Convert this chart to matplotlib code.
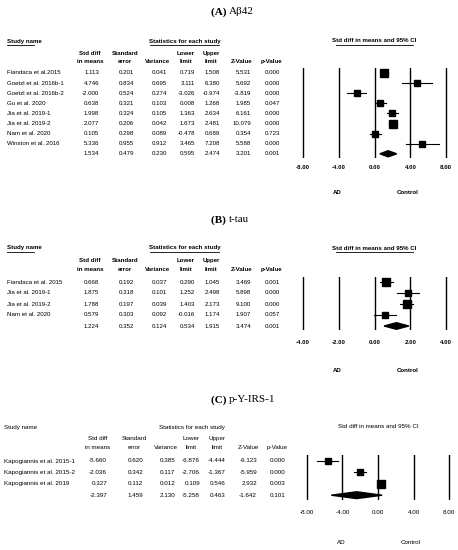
import matplotlib
matplotlib.use("Agg")
import matplotlib.pyplot as plt
from matplotlib.patches import Polygon
from matplotlib.lines import Line2D

plt.rcParams['font.family'] = ['Liberation Sans', 'DejaVu Sans']

W, H = 458, 550
fig = plt.figure(figsize=(W/100, H/100), dpi=100)

# ---- data ----
a_names = ["Fiandaca et al.2015", "Goetzl et al. 2016b-1", "Goetzl et al. 2016b-2", "Gu et al. 2020",
           "Jia et al. 2019-1", "Jia et al. 2019-2", "Nam et al. 2020", "Winston et al. 2016"]
a_smd = [1.113, 4.746, -2.000, 0.638, 1.998, 2.077, 0.105, 5.336]
a_se = [0.201, 0.834, 0.524, 0.321, 0.324, 0.206, 0.298, 0.955]
a_var = [0.041, 0.695, 0.274, 0.103, 0.105, 0.042, 0.089, 0.912]
a_lo = [0.719, 3.111, -3.026, 0.008, 1.363, 1.673, -0.478, 3.465]
a_hi = [1.508, 6.380, -0.974, 1.268, 2.634, 2.481, 0.689, 7.208]
a_z = [5.531, 5.692, -3.819, 1.985, 6.161, 10.079, 0.354, 5.588]
a_p = [0.000, 0.000, 0.000, 0.047, 0.000, 0.000, 0.723, 0.000]
a_sum = [1.534, 0.479, 0.230, 0.595, 2.474, 3.201, 0.001]

b_names = ["Fiandaca et al. 2015", "Jia et al. 2019-1", "Jia et al. 2019-2", "Nam et al. 2020"]
b_smd = [0.668, 1.875, 1.788, 0.579]
b_se = [0.192, 0.318, 0.197, 0.303]
b_var = [0.037, 0.101, 0.039, 0.092]
b_lo = [0.290, 1.252, 1.403, -0.016]
b_hi = [1.045, 2.498, 2.173, 1.174]
b_z = [3.469, 5.898, 9.100, 1.907]
b_p = [0.001, 0.000, 0.000, 0.057]
b_sum = [1.224, 0.352, 0.124, 0.534, 1.915, 3.474, 0.001]

c_names = ["Kapogiannis et al. 2015-1", "Kapogiannis et al. 2015-2", "Kapogiannis et al. 2019"]
c_smd = [-5.660, -2.036, 0.327]
c_se = [0.620, 0.342, 0.112]
c_var = [0.385, 0.117, 0.012]
c_lo = [-6.876, -2.706, 0.109]
c_hi = [-4.444, -1.367, 0.546]
c_z = [-9.123, -5.959, 2.932]
c_p = [0.000, 0.000, 0.003]
c_sum = [-2.397, 1.459, 2.130, -5.258, 0.463, -1.642, 0.101]

a_ticks = [-8, -4, 0, 4, 8]
b_ticks = [-4, -2, 0, 2, 4]
c_ticks = [-8, -4, 0, 4, 8]

col_heads = [("Std diff", "in means"), ("Standard", "error"), ("", "Variance"),
             ("Lower", "limit"), ("Upper", "limit"), ("", "Z-Value"), ("", "p-Value")]

def T(x, y, s, **kw):
    kw.setdefault('fontsize', 5)
    return fig.text(x / W, 1 - y / H, s, va='center', **kw)

def U(x, y, s, ha, fs, underline, **kw):
    T(x, y, s, ha=ha, fontsize=fs, **kw)
    if underline:
        w = len(s) * fs * 0.62
        x0 = x if ha == 'left' else x - w / 2
        fig.add_artist(Line2D([x0 / W, (x0 + w) / W], [1 - (y + 4) / H] * 2,
                              color='black', lw=0.6, transform=fig.transFigure))

def panel(title, ty, names, smd, se, var, lo, hi, z, p, summ, ticks,
          hy, rows_y0, dy, colx, namex, axl, axr, tick_y, ady, bold, fs=5):
    T(229, ty, title.split(' ', 1)[0] + ' ', ha='right', fontsize=8, family='Liberation Serif', fontweight='bold')
    T(229, ty, title.split(' ', 1)[1], ha='left', fontsize=8, family='Liberation Serif')
    fw = 'bold' if bold else 'normal'
    U(namex, hy, "Study name", 'left', fs, bold, fontweight=fw)
    U((colx[0] + colx[-1]) / 2 - 5, hy, "Statistics for each study", 'center', fs, bold, fontweight=fw)
    U((axl + axr) / 2, hy, "Std diff in means and 95% CI", 'center', fs, bold, fontweight=fw)
    for (h1, h2), cx in zip(col_heads, colx):
        T(cx - 9, rows_y0 - dy * 1.95, h1, ha='center', fontweight=fw, fontsize=fs)
        T(cx - 9, rows_y0 - dy * 1.15, h2, ha='center', fontweight=fw, fontsize=fs)
    n = len(names)
    for i in range(n):
        yy = rows_y0 + i * dy
        T(namex, yy, names[i], ha='left', fontsize=fs)
        vals = [smd[i], se[i], var[i], lo[i], hi[i], z[i], p[i]]
        for v, cx in zip(vals, colx):
            T(cx, yy, f"{v:.3f}", ha='right', fontsize=fs)
    yy = rows_y0 + n * dy
    for v, cx in zip(summ, colx):
        T(cx, yy, f"{v:.3f}", ha='right', fontsize=fs)
    top = rows_y0 - dy * 0.5
    bot = rows_y0 + (n + 0.4) * dy
    ax = fig.add_axes([axl / W, 1 - bot / H, (axr - axl) / W, (bot - top) / H])
    ax.set_xlim(ticks[0] - 0.02 * (ticks[-1] - ticks[0]), ticks[-1] + 0.02 * (ticks[-1] - ticks[0]))
    ax.set_ylim(n + 0.4, -0.5)
    for t in ticks:
        ax.axvline(t, color='black', lw=1.0)
    for s in ax.spines.values():
        s.set_visible(False)
    ax.set_yticks([])
    ax.set_xticks([])
    ax.patch.set_alpha(0)
    span = (axr - axl) / 1.04
    for t in ticks:
        T(axl + (axr - axl) * 0.02 + (t - ticks[0]) / (ticks[-1] - ticks[0]) * span, tick_y, f"{t:.2f}",
          ha='center', fontweight=fw, fontsize=fs)
    T(axl + (axr - axl) * 0.25, ady, "AD", ha='center', fontweight=fw, fontsize=fs)
    T(axl + (axr - axl) * 0.72, ady, "Control", ha='center', fontweight=fw, fontsize=fs)
    wmax = max(1 / v for v in var)
    for i in range(n):
        ax.plot([lo[i], hi[i]], [i, i], color='black', lw=0.8, zorder=3)
        ms = 3.2 + 2.3 * ((1 / var[i]) / wmax) ** 0.5
        ax.plot(smd[i], i, marker='s', color='black', ms=ms, zorder=4)
    ax.add_patch(Polygon([[summ[3], n], [summ[0], n - 0.3], [summ[4], n], [summ[0], n + 0.3]],
                         closed=True, color='black', zorder=4))

colAB = [99, 134, 167, 195, 220, 251, 280]
panel("(A) Aβ42", 12, a_names, a_smd, a_se, a_var, a_lo, a_hi, a_z, a_p, a_sum, a_ticks,
      41, 73, 10.1, colAB, 7, 300, 449, 167, 192, True, fs=4.4)
panel("(B) t-tau", 220, b_names, b_smd, b_se, b_var, b_lo, b_hi, b_z, b_p, b_sum, b_ticks,
      248, 282, 11.0, colAB, 7, 300, 449, 342, 371, True, fs=4.4)
colC = [107, 143, 175, 200, 226, 257, 286]
panel("(C) p-Y-IRS-1", 400, c_names, c_smd, c_se, c_var, c_lo, c_hi, c_z, c_p, c_sum, c_ticks,
      427, 461, 11.4, colC, 4, 304, 452, 513, 542, False, fs=4.5)

fig.savefig("out.png", dpi=100)
